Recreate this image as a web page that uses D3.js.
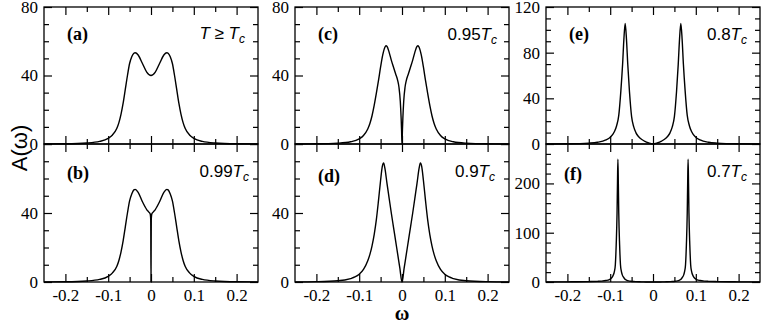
<!DOCTYPE html>
<html><head><meta charset="utf-8">
<script src="https://cdn.jsdelivr.net/npm/d3@7"></script>
<style>
body{margin:0;background:#fff} svg{display:block}
</style>
</head><body>
<svg id="c" width="761" height="324"></svg>
<script>
// ---- data ----
const omegaA = [-0.25,-0.2,-0.15,-0.12,-0.1,-0.09,-0.08,-0.075,-0.07,-0.065,-0.06,-0.055,-0.05,-0.045,-0.04,-0.037,-0.03,-0.02,-0.01,0,0.01,0.02,0.03,0.037,0.04,0.045,0.05,0.055,0.06,0.065,0.07,0.075,0.08,0.09,0.1,0.12,0.15,0.2,0.25];
const valuesA = [0.05,0.15,0.6,1.5,3.3,5.3,9,12.5,17.5,24,32,40,47,51,53,53.3,52,47,42,40,42,47,52,53.3,53,51,47,40,32,24,17.5,12.5,9,5.3,3.3,1.5,0.6,0.15,0.05];

const omegaB = [-0.25,-0.2,-0.15,-0.12,-0.1,-0.09,-0.08,-0.075,-0.07,-0.065,-0.06,-0.055,-0.05,-0.045,-0.04,-0.037,-0.03,-0.02,-0.01,-0.005,-0.002,-0.0006,0,0.0006,0.002,0.005,0.01,0.02,0.03,0.037,0.04,0.045,0.05,0.055,0.06,0.065,0.07,0.075,0.08,0.09,0.1,0.12,0.15,0.2,0.25];
const valuesB = [0.05,0.15,0.6,1.5,3.3,5.3,9,12.5,17.5,24,32,40,47,51,53.4,53.7,52,46.5,42,40.5,39.5,36,0,36,39.5,40.5,42,46.5,52,53.7,53.4,51,47,40,32,24,17.5,12.5,9,5.3,3.3,1.5,0.6,0.15,0.05];

const omegaC = [-0.25,-0.2,-0.15,-0.12,-0.1,-0.09,-0.08,-0.075,-0.07,-0.065,-0.06,-0.055,-0.05,-0.045,-0.04,-0.0374,-0.035,-0.03,-0.025,-0.02,-0.015,-0.01,-0.007,-0.004,-0.002,-0.001,0,0.001,0.002,0.004,0.007,0.01,0.015,0.02,0.025,0.03,0.035,0.0374,0.04,0.045,0.05,0.055,0.06,0.065,0.07,0.075,0.08,0.09,0.1,0.12,0.15,0.2,0.25];
const valuesC = [0.04,0.12,0.5,1.3,3,5,8.8,12,16.5,22.5,29.5,37,45,52,56.5,57.4,57,53.5,49,45,41,37,33,25,15,8,0,8,15,25,33,37,41,45,49,53.5,57,57.4,56.5,52,45,37,29.5,22.5,16.5,12,8.8,5,3,1.3,0.5,0.12,0.04];

const omegaD = [-0.25,-0.2,-0.15,-0.12,-0.11,-0.1,-0.09,-0.08,-0.075,-0.07,-0.065,-0.06,-0.055,-0.05,-0.046,-0.043,-0.04,-0.035,-0.03,-0.025,-0.02,-0.015,-0.01,-0.005,0,0.005,0.01,0.015,0.02,0.025,0.03,0.035,0.04,0.043,0.046,0.05,0.055,0.06,0.065,0.07,0.075,0.08,0.09,0.1,0.11,0.12,0.15,0.2,0.25];
const valuesD = [0.06,0.2,0.7,2,2.9,4.5,7.3,12.3,16,21,27.5,36,47,59,67,69,66,57,48.5,40,32,24,16,8,0,8,16,24,32,40,48.5,57,66,69,67,59,47,36,27.5,21,16,12.3,7.3,4.5,2.9,2,0.7,0.2,0.06];

const omegaE = [-0.25,-0.2,-0.15,-0.13,-0.11,-0.1,-0.09,-0.085,-0.08,-0.075,-0.071,-0.068,-0.065,-0.062,-0.059,-0.055,-0.05,-0.045,-0.04,-0.035,-0.03,-0.02,-0.01,0,0.01,0.02,0.03,0.035,0.04,0.045,0.05,0.055,0.059,0.062,0.065,0.068,0.071,0.075,0.08,0.085,0.09,0.1,0.11,0.13,0.15,0.2,0.25];
const valuesE = [0.05,0.2,0.8,1.5,3.6,6,11,16,25,47,70,92,105.7,92,70,46,24,15,10,7,5,2.5,0.9,0,0.9,2.5,5,7,10,15,24,46,70,92,105.7,92,70,47,25,16,11,6,3.6,1.5,0.8,0.2,0.05];

const omegaF = [-0.25,-0.2,-0.15,-0.13,-0.12,-0.11,-0.102,-0.097,-0.094,-0.09,-0.088,-0.086,-0.084,-0.083,-0.082,-0.081,-0.08,-0.078,-0.076,-0.074,-0.072,-0.069,-0.066,-0.062,-0.057,-0.052,-0.042,-0.032,-0.022,-0.012,0,0.012,0.022,0.032,0.042,0.052,0.057,0.062,0.066,0.069,0.072,0.074,0.076,0.078,0.08,0.081,0.082,0.083,0.084,0.086,0.088,0.09,0.094,0.097,0.102,0.11,0.12,0.13,0.15,0.2,0.25];
const valuesF = [0.1,0.3,0.8,1.3,1.8,3,5,8,12,22,35,75,140,200,249,200,140,75,35,22,15,10,6,4,2.4,1.5,0.8,0.45,0.25,0.08,0,0.08,0.25,0.45,0.8,1.5,2.4,4,6,10,15,22,35,75,140,200,249,200,140,75,35,22,12,8,5,3,1.8,1.3,0.8,0.3,0.1];

const xMajorTicks = [-0.2,-0.1,0,0.1,0.2];
const xMinorTicks = [-0.15,-0.05,0.05,0.15];
const tempLabels = ["T\u2265T", "0.99T", "0.95T", "0.9T", "0.8T", "0.7T"];
const panelLabels = ["(a)","(b)","(c)","(d)","(e)","(f)"];

// ---- layout ----
const svg = d3.select("#c");
const W = 214;
const cols = [44, 295, 546];
const rows = [[7,144],[144,282]];
const SERIF = "Liberation Serif";
const SANS = "Liberation Sans";

const panels = [
  {col:0,row:0,om:omegaA,val:valuesA,ymax:80,yMaj:[0,40,80],yMin:[10,20,30,50,60,70],ylab:[0,40,80],lab:0,tl:{x:245,y:39,kind:"geq"},pl:{x:67,y:40}},
  {col:0,row:1,om:omegaB,val:valuesB,ymax:80,yMaj:[0,40,80],yMin:[10,20,30,50,60,70],ylab:[0,40],lab:1,tl:{x:249,y:177},pl:{x:67,y:179}},
  {col:1,row:0,om:omegaC,val:valuesC,ymax:80,yMaj:[0,40,80],yMin:[10,20,30,50,60,70],ylab:[0,40,80],lab:2,tl:{x:497,y:40},pl:{x:318,y:40}},
  {col:1,row:1,om:omegaD,val:valuesD,ymax:80,yMaj:[0,40,80],yMin:[10,20,30,50,60,70],ylab:[0,40],lab:3,tl:{x:495,y:177},pl:{x:318,y:182}},
  {col:2,row:0,om:omegaE,val:valuesE,ymax:120,yMaj:[0,40,80,120],yMin:[10,20,30,50,60,70,90,100,110],ylab:[0,40,80,120],lab:4,tl:{x:747,y:40},pl:{x:569,y:40}},
  {col:2,row:1,om:omegaF,val:valuesF,ymax:280,yMaj:[0,100,200],yMin:[20,40,60,80,120,140,160,180,220,240,260],ylab:[0,100,200],lab:5,tl:{x:747,y:177},pl:{x:564,y:180}}
];

function styleAxis(g){
  g.select(".domain").remove();
  g.selectAll("line").attr("stroke","#000").attr("stroke-width",1.2);
  g.attr("font-size",17);
  g.selectAll("text").attr("fill","#000").style("font-family", SERIF);
}

panels.forEach(p => {
  const x0 = cols[p.col], y0 = rows[p.row][0], y1 = rows[p.row][1];
  const h = y1 - y0;
  const x = d3.scaleLinear().domain([-0.25,0.25]).range([0,W]);
  const y = d3.scaleLinear().domain([0,p.ymax]).range([h,0]);
  const g = svg.append("g").attr("transform",`translate(${x0},${y0})`);
  const bottom = p.row === 1;

  g.append("g").attr("transform",`translate(0,${h})`)
    .call(d3.axisBottom(x).tickValues(xMajorTicks).tickSize(-8).tickPadding(7)
      .tickFormat(d => bottom ? String(d) : "")).call(styleAxis);
  g.append("g").attr("transform",`translate(0,${h})`)
    .call(d3.axisBottom(x).tickValues(xMinorTicks).tickSize(-5).tickFormat("")).call(styleAxis);
  g.append("g")
    .call(d3.axisTop(x).tickValues(xMajorTicks).tickSize(-8).tickFormat("")).call(styleAxis);
  g.append("g")
    .call(d3.axisTop(x).tickValues(xMinorTicks).tickSize(-5).tickFormat("")).call(styleAxis);

  g.append("g")
    .call(d3.axisLeft(y).tickValues(p.yMaj).tickSize(-8).tickPadding(6)
      .tickFormat(d => p.ylab.includes(d) ? String(d) : "")).call(styleAxis);
  g.append("g")
    .call(d3.axisLeft(y).tickValues(p.yMin).tickSize(-5).tickFormat("")).call(styleAxis);
  g.append("g").attr("transform",`translate(${W},0)`)
    .call(d3.axisRight(y).tickValues(p.yMaj).tickSize(-8).tickFormat("")).call(styleAxis);
  g.append("g").attr("transform",`translate(${W},0)`)
    .call(d3.axisRight(y).tickValues(p.yMin).tickSize(-5).tickFormat("")).call(styleAxis);

  g.append("rect").attr("x",0).attr("y",0).attr("width",W).attr("height",h)
    .attr("fill","none").attr("stroke","#000").attr("stroke-width",1.3);

  const pts = p.om.map((w,i)=>[w,p.val[i]]);
  g.append("path").datum(pts)
    .attr("d", d3.line().x(d=>x(d[0])).y(d=>y(d[1])).curve(d3.curveMonotoneX))
    .attr("fill","none").attr("stroke","#000").attr("stroke-width",1.4);

  svg.append("text").style("font-family",SERIF).attr("x",p.pl.x).attr("y",p.pl.y)
    .attr("font-weight","bold").attr("font-size",18)
    .text(panelLabels[p.lab]);

  const t = svg.append("text").style("font-family",SANS).attr("x",p.tl.x).attr("y",p.tl.y)
    .attr("text-anchor","end").attr("font-size",17);
  const s = tempLabels[p.lab];
  if (p.tl.kind === "geq") {
    t.append("tspan").attr("font-style","italic").text("T");
    t.append("tspan").text(" \u2265 ");
    t.append("tspan").attr("font-style","italic").text("T");
  } else {
    t.append("tspan").text(s.slice(0,-1));
    t.append("tspan").attr("font-style","italic").text("T");
  }
  t.append("tspan").attr("font-style","italic").attr("font-size",12).attr("dy",4).text("c");
});

svg.append("text").style("font-family",SANS).attr("transform","translate(27,148) rotate(-90)")
  .attr("text-anchor","middle").attr("font-size",22)
  .text("A(\u03c9)");
svg.append("text").style("font-family",SERIF).attr("x",402).attr("y",320).attr("text-anchor","middle")
  .attr("font-weight","bold").attr("font-size",20)
  .text("\u03c9");
</script>
</body></html>
